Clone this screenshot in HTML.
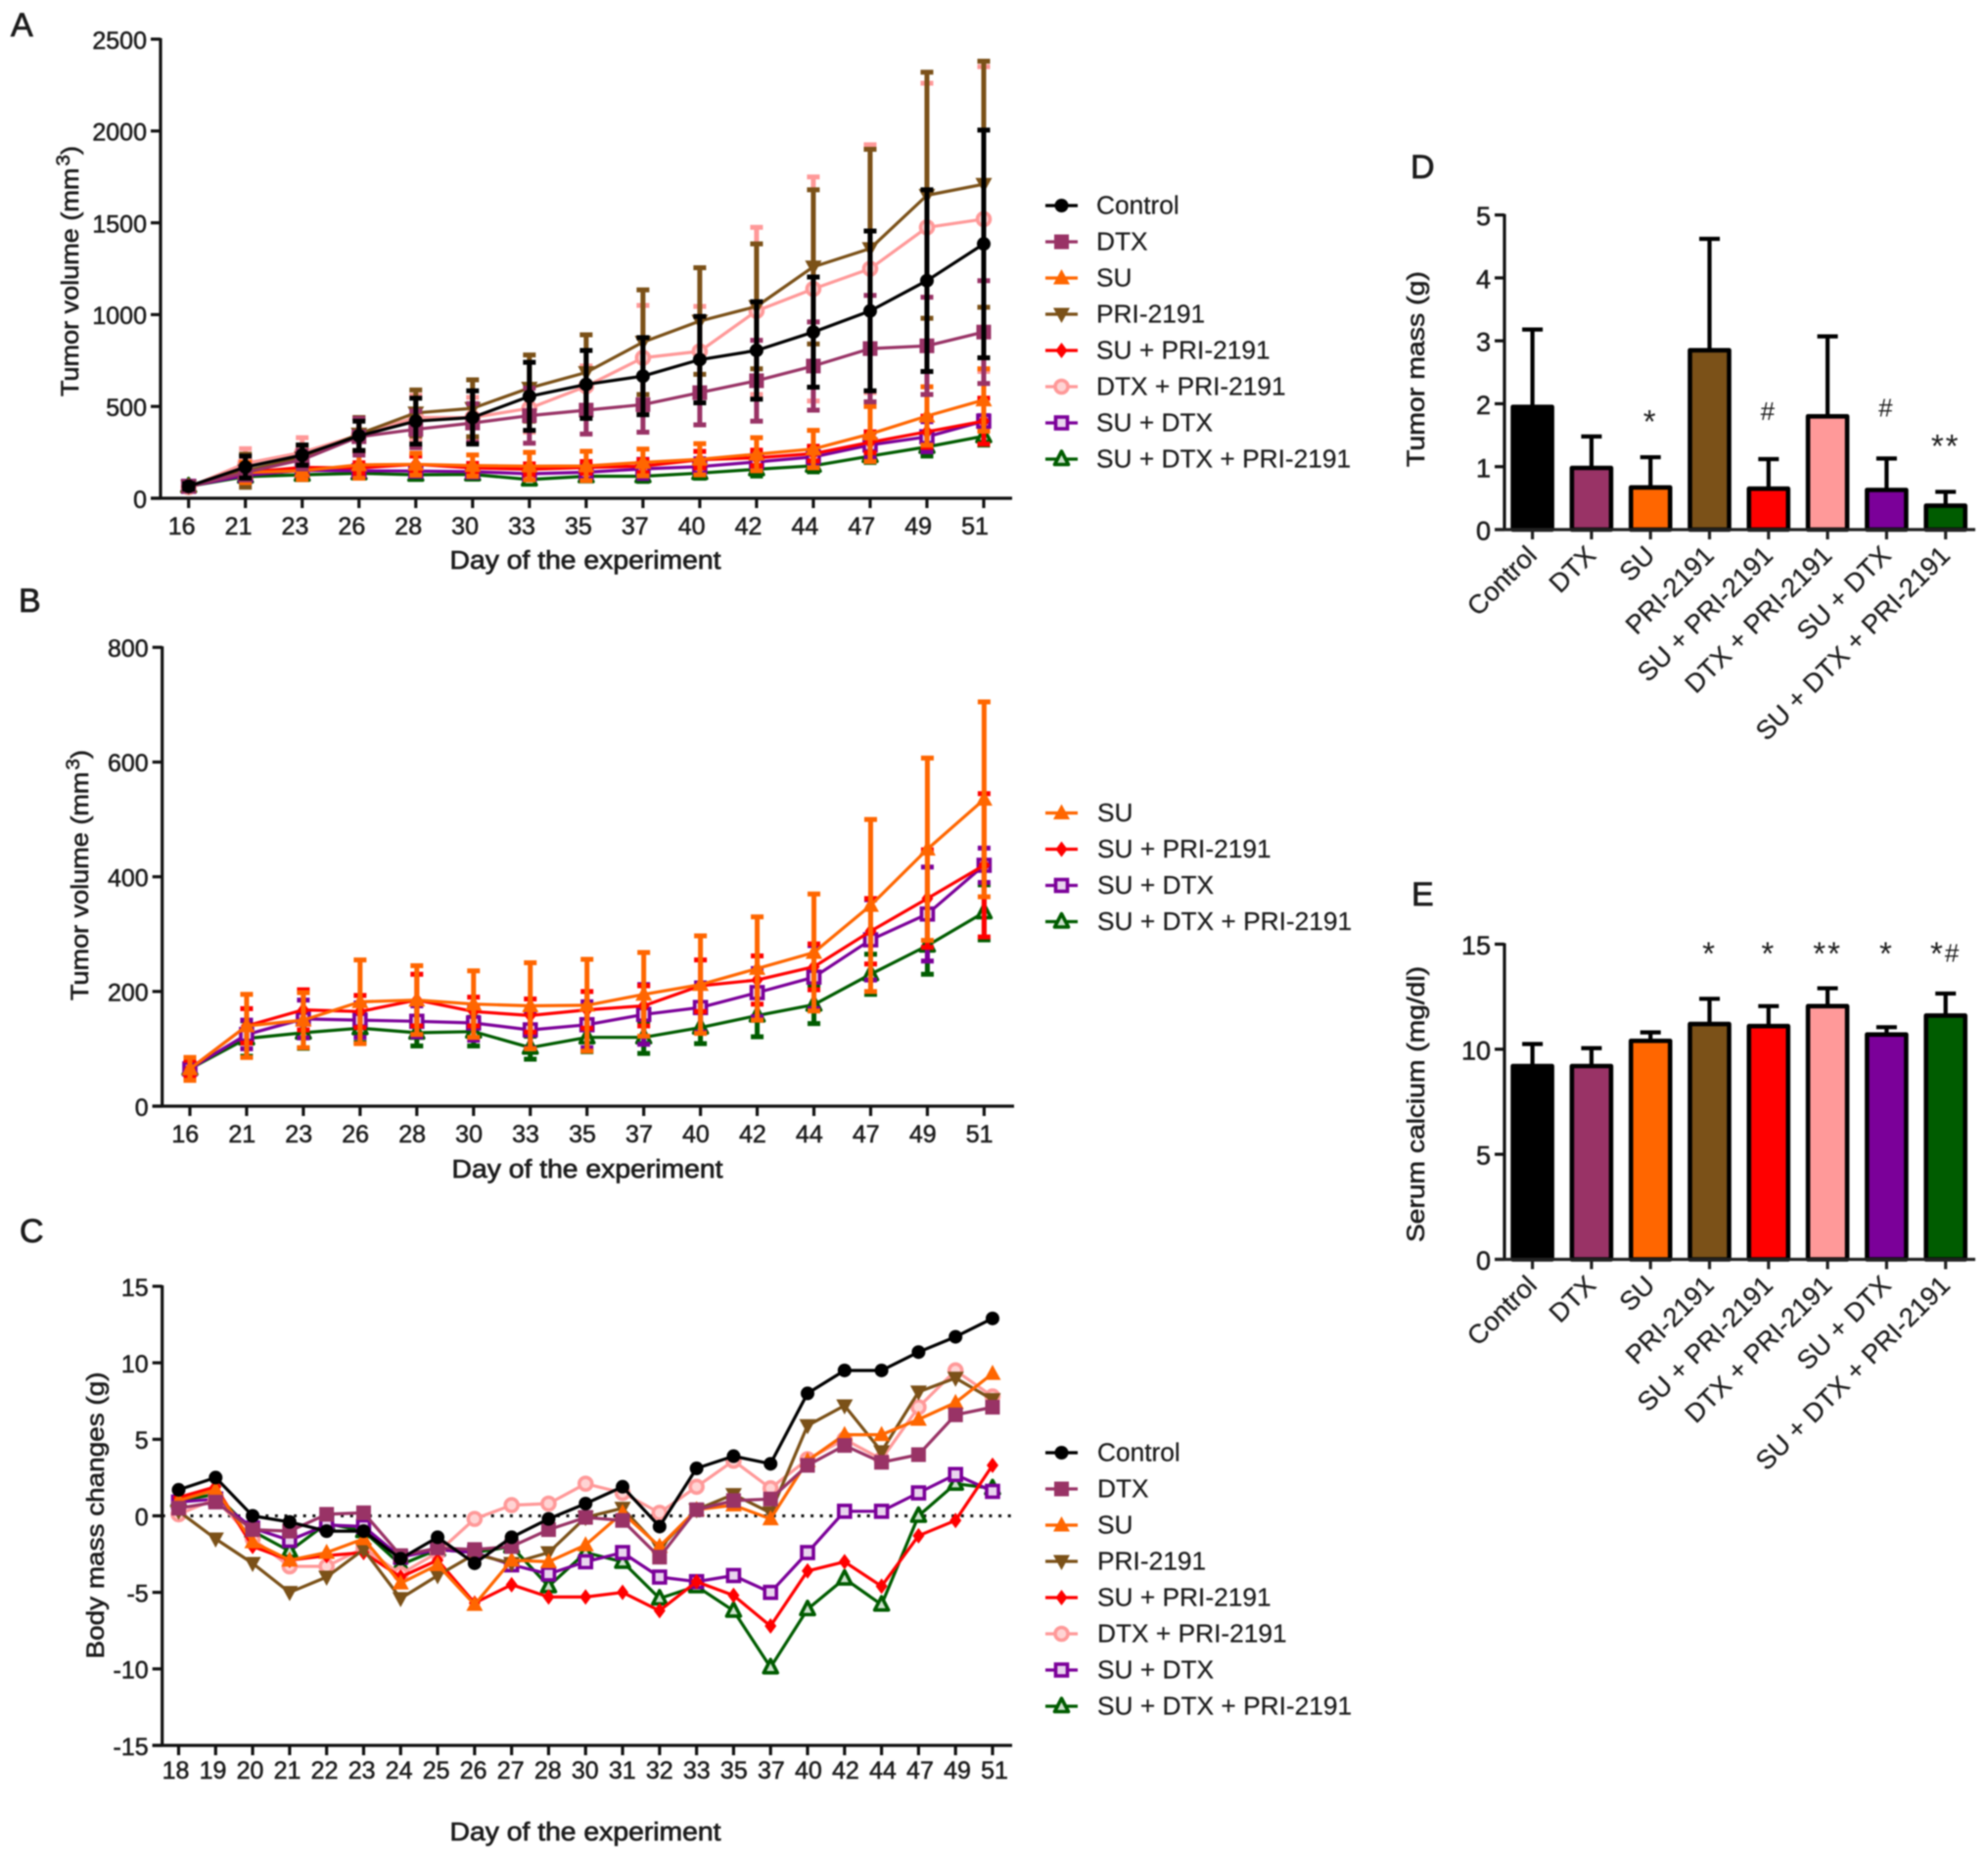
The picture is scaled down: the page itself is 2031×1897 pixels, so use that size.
<!DOCTYPE html>
<html lang="en">
<head>
<meta charset="utf-8">
<title>Tumor volume, body mass, tumor mass and serum calcium</title>
<style>
html,body{margin:0;padding:0;background:#fff;width:2031px;height:1897px;overflow:hidden}
svg{display:block;filter:blur(.7px)}
text{font-family:"Liberation Sans",Arial,sans-serif;fill:#1c1c1c}
</style>
</head>
<body>
<svg id="figure" xmlns="http://www.w3.org/2000/svg" width="2031" height="1897" viewBox="0 0 2031 1897"></svg>
<script>
// ---------- Shared categories ----------
const groupNames = ['Control','DTX','SU','PRI-2191','SU + PRI-2191','DTX + PRI-2191','SU + DTX','SU + DTX + PRI-2191'];
const groupColors = ['#000000','#993366','#ff6600','#7b5118','#ff0000','#ff9999','#7b0099','#005c00'];
const groupShapes = ['circle','square','up','down','diamond','ocircle','osquare','oup'];

// ---------- Tumor volume (panels A and B) ----------
const volumeDays = [16,21,23,26,28,30,33,35,37,40,42,44,47,49,51];
const volControl = [65,170,235,340,420,440,555,620,665,755,805,905,1020,1185,1385];
const volDtx = [65,140,210,335,375,410,450,480,510,575,640,720,815,830,905];
const volSu = [65,140,150,182,185,178,175,176,195,212,240,268,350,448,535];
const volPri = [65,150,220,350,465,490,600,685,850,965,1045,1260,1360,1650,1710];
const volSuPri = [65,140,168,165,185,165,158,168,175,210,220,243,305,362,420];
const volDtxPri = [60,190,250,345,440,440,490,610,765,800,1020,1140,1250,1475,1520];
const volSuDtx = [65,125,152,150,148,145,133,142,160,172,198,225,290,335,420];
const volSuDtxPri = [65,118,128,136,128,130,102,120,120,137,158,177,230,280,338];
const errControl = [15,60,55,80,125,145,185,185,210,235,265,300,435,495,620];
const errDtx = [15,40,50,100,100,105,150,130,150,175,220,240,290,265,280];
const errSu = [20,55,48,73,60,58,75,80,73,85,90,102,150,159,170];
const errPri = [15,90,70,90,125,155,180,205,285,290,340,420,540,670,670];
const errSuPri = [15,30,35,28,45,25,29,32,35,45,42,40,57,85,125];
const errDtxPri = [15,80,80,95,120,110,130,110,285,245,455,610,675,785,830];
const errSuDtx = [15,25,33,30,27,30,32,40,52,43,42,55,70,82,30];
const errSuDtxPri = [15,31,27,25,23,25,20,25,28,28,37,33,35,50,48];
const ticksA = [0,500,1000,1500,2000,2500];
const ticksB = [0,200,400,600,800];

// ---------- Body mass (panel C) ----------
const massDays = [18,19,20,21,22,23,24,25,26,27,28,30,31,32,33,35,37,40,42,44,47,49,51];
const massControl = [1.7,2.5,0,-0.4,-1,-1,-2.8,-1.4,-3.1,-1.4,-0.2,0.8,1.9,-0.7,3.1,3.9,3.4,8,9.5,9.5,10.7,11.7,12.9];
const massDtx = [0.5,0.9,-0.9,-1.0,0.1,0.2,-2.6,-2.1,-2.2,-2.0,-0.9,-0.1,-0.3,-2.7,0.4,1.0,1.1,3.3,4.6,3.5,4.0,6.6,7.1];
const massSu = [1.0,1.7,-1.7,-2.9,-2.4,-1.5,-4.4,-3.2,-5.8,-2.9,-3.0,-1.9,0.2,-2.0,0.4,0.7,-0.2,3.6,5.3,5.3,6.3,7.4,9.3];
const massPri = [0.3,-1.5,-3.1,-5.0,-4.0,-2.2,-5.4,-3.9,-2.5,-3.1,-2.4,-0.1,0.5,-2.1,0.4,1.4,0.2,5.9,7.2,4.2,8.1,9.0,7.6];
const massSuPri = [1.2,1.9,-2.0,-2.9,-2.6,-2.4,-4.0,-2.9,-5.7,-4.5,-5.3,-5.3,-5.0,-6.2,-4.3,-5.2,-7.2,-3.6,-3.0,-4.6,-1.3,-0.3,3.3];
const massDtxPri = [0.1,1.1,-1.5,-3.3,-3.3,-2.1,-3.8,-2.4,-0.2,0.7,0.8,2.1,1.5,0.2,1.9,3.6,1.8,3.7,5.0,3.7,7.1,9.5,7.8];
const massSuDtx = [0.9,1.1,-0.8,-1.6,-0.6,-0.7,-2.7,-2.2,-2.4,-3.2,-3.8,-3.0,-2.4,-4.0,-4.3,-3.9,-5.0,-2.4,0.3,0.3,1.5,2.7,1.6];
const massSuDtxPri = [1.0,1.4,-1.0,-2.3,-0.5,-1.0,-3.2,-2.2,-2.4,-2.0,-4.6,-2.4,-3.0,-5.4,-4.6,-6.2,-9.9,-6.1,-4.1,-5.8,0,2.1,1.8];
const ticksC = [-15,-10,-5,0,5,10,15];

// ---------- Bar panels D and E ----------
const tumorMass = [1.95,0.98,0.67,2.85,0.65,1.80,0.63,0.38];
const tumorMassUpper = [3.18,1.48,1.15,4.62,1.12,3.07,1.13,0.60];
const tumorMassMarks = ['','','*','','#','','#','**'];
const tumorMassMarkLevels = [0,0,1.54,0,1.74,0,1.80,1.15];
const ticksD = [0,1,2,3,4,5];
const calcium = [9.2,9.2,10.4,11.2,11.1,12.05,10.7,11.6];
const calciumUpper = [10.25,10.05,10.8,12.4,12.05,12.9,11.05,12.65];
const calciumMarks = ['','','','*','*','**','*','*#'];
const calciumMarkLevels = [0,0,0,14.03,14.03,14.03,14.03,14.03];
const ticksE = [0,5,10,15];

const NS = 'http://www.w3.org/2000/svg';
const root = document.getElementById('figure');
function mk(tag, attrs, parent, txt){
  const el = document.createElementNS(NS, tag);
  for(const k in attrs){ el.setAttribute(k, attrs[k]); }
  if(txt !== undefined){ el.textContent = txt; }
  (parent || root).appendChild(el);
  return el;
}
function slug(s){ return s.toLowerCase().replace(/[^a-z0-9]+/g,'-').replace(/^-|-$/g,''); }

function panelLetter(letter, x, y){
  const el = mk('text',{x:x,y:y,'font-size':34,stroke:'#1c1c1c','stroke-width':.8},root,letter);
  
  
}

function marker(parent, shape, x, y, color){
  const thick = 3.6;
  let el;
  if(shape === 'circle'){ el = mk('circle',{cx:x,cy:y,r:7,fill:color},parent); }
  else if(shape === 'square'){ el = mk('rect',{x:x-7.5,y:y-7.5,width:15,height:15,fill:color},parent); }
  else if(shape === 'up'){ el = mk('polygon',{points:[x,y-9,x+8.5,y+6.5,x-8.5,y+6.5].join(' '),fill:color},parent); }
  else if(shape === 'down'){ el = mk('polygon',{points:[x,y+9,x+8.5,y-6.5,x-8.5,y-6.5].join(' '),fill:color},parent); }
  else if(shape === 'diamond'){ el = mk('polygon',{points:[x,y-8,x+6,y,x,y+8,x-6,y].join(' '),fill:color},parent); }
  else if(shape === 'ocircle'){ el = mk('circle',{cx:x,cy:y,r:6.5,fill:'#ffd4d4',stroke:color,'stroke-width':thick},parent); }
  else if(shape === 'osquare'){ el = mk('rect',{x:x-6,y:y-6,width:12,height:12,fill:'#e9d5ee',stroke:color,'stroke-width':thick},parent); }
  else { el = mk('polygon',{points:[x,y-8,x+7,y+5.5,x-7,y+5.5].join(' '),fill:'#cfe3cf',stroke:color,'stroke-width':thick,'stroke-linejoin':'round'},parent); }
  
  
}

function yAxisPart(g, axisX, yScale, ticks, fontSize, labelGap, axisW){
  const line = mk('line',{x1:axisX,x2:axisX,y1:yScale(ticks[ticks.length-1])-1,y2:yScale(ticks[0])+1,stroke:'#111','stroke-width':axisW},g);
  
  
  ticks.forEach(function(t){
    const tick = mk('line',{x1:axisX-10,x2:axisX,y1:yScale(t),y2:yScale(t),stroke:'#111','stroke-width':axisW},g);
    
    
    const lab = mk('text',{x:axisX-labelGap,y:yScale(t)+fontSize*.39,'text-anchor':'end','font-size':fontSize,stroke:'#1c1c1c','stroke-width':.55},g,String(t));
    
    
  });
}

function rotatedTitle(g, x, y, pre, sup, post, len, name){
  const t = mk('text',{transform:'translate('+x+','+y+') rotate(-90)','text-anchor':'middle','font-size':25,stroke:'#1c1c1c','stroke-width':.6},g);
  
  
  mk('tspan',{},t,pre);
  if(sup){
    mk('tspan',{'font-size':19,dy:-9,dx:2},t,sup);
    mk('tspan',{dy:9},t,post);
  }
  if(len){ t.setAttribute('textLength', len); t.setAttribute('lengthAdjust','spacingAndGlyphs'); }
}

function lineChart(o){
  const g = mk('g',{},root);
  
  
  const n = o.cats.length;
  const x = function(i){ return o.x0 + (o.x1 - o.x0) * i / (n - 1); };
  const y = function(v){ return o.yBase + (o.yTop - o.yBase) * (v - o.ticks[0]) / (o.ticks[o.ticks.length-1] - o.ticks[0]); };
  if(o.zeroLine){
    const z = mk('line',{x1:o.axisX,x2:o.axisEnd,y1:y(0),y2:y(0),stroke:'#111','stroke-width':3,'stroke-dasharray':'3 6.6'},g);
    
    
  }
  // series draw in reverse legend order so the first group sits on top
  for(let s = o.series.length - 1; s >= 0; s--){
    const S = o.series[s];
    const sg = mk('g',{},g);
    
    
    if(S.err){
      S.values.forEach(function(v,i){
        const top = y(v + S.err[i]);
        const bot = y(Math.max(v - S.err[i], 0));
        const e = mk('path',{d:'M'+x(i)+' '+top+'V'+bot+'M'+(x(i)-6.5)+' '+top+'h13M'+(x(i)-6.5)+' '+bot+'h13',stroke:S.color,'stroke-width':5,fill:'none'},sg);
        
        
      });
    }
    const pts = S.values.map(function(v,i){ return x(i).toFixed(1) + ',' + y(v).toFixed(1); }).join(' ');
    const l = mk('polyline',{points:pts,fill:'none',stroke:S.color,'stroke-width':3.2,'stroke-linejoin':'round'},sg);
    
    
    S.values.forEach(function(v,i){ marker(sg,S.shape,x(i),y(v),S.color); });
  }
  yAxisPart(g,o.axisX,y,o.ticks,o.tickFont,14,3.2);
  const xa = mk('line',{x1:o.axisX-10,x2:o.axisEnd,y1:o.yBase,y2:o.yBase,stroke:'#111','stroke-width':3.2},g);
  
  
  o.cats.forEach(function(c,i){
    const tk = mk('line',{x1:x(i),x2:x(i),y1:o.yBase,y2:o.yBase+10,stroke:'#111','stroke-width':3.2},g);
    
    
    const off = o.lab0 + (o.lab1 - o.lab0) * i / (n - 1);
    const lb = mk('text',{x:x(i)+off,y:o.labY,'text-anchor':'middle','font-size':o.tickFont,stroke:'#1c1c1c','stroke-width':.55},g,String(c));
    
    
  });
  const xt = mk('text',{x:o.titleX,y:o.titleY,'text-anchor':'middle','font-size':25.5,stroke:'#1c1c1c','stroke-width':.7,textLength:277,lengthAdjust:'spacingAndGlyphs'},g,'Day of the experiment');
  
  
  rotatedTitle(g,o.yTitleX,o.yTitleY,o.yPre,o.ySup,o.yPost,o.yLen,'y-axis-title');
  // legend
  const lg = mk('g',{},g);
  
  
  o.series.forEach(function(S,i){
    const ly = o.legendY + i * 37;
    const row = mk('g',{},lg);
    
    
    mk('line',{x1:1068,x2:1101,y1:ly,y2:ly,stroke:S.color,'stroke-width':3.2},row);
    marker(row,S.shape,1084.5,ly,S.color);
    const t = mk('text',{x:o.legendTextX,y:ly+8.5,'font-size':26.3,fill:'#222'},row,S.name);
    t.setAttribute('stroke', '#222');
    t.setAttribute('stroke-width', '.25');
    
    
  });
}

function barChart(o){
  const g = mk('g',{},root);
  
  
  const barX = function(i){ return 1565.6 + 60.3 * i; };
  const y = function(v){ return o.yBase + (o.yTop - o.yBase) * v / o.ticks[o.ticks.length-1]; };
  o.values.forEach(function(v,i){
    const cx = barX(i);
    const e = mk('path',{d:'M'+cx+' '+y(v)+'V'+y(o.upper[i])+'M'+(cx-10.5)+' '+y(o.upper[i])+'h21',stroke:'#000','stroke-width':4.2,fill:'none'},g);
    
    
    const r = mk('rect',{x:cx-20,y:y(v),width:40,height:o.yBase-y(v),fill:groupColors[i],stroke:'#000','stroke-width':4.6,'stroke-linejoin':'round'},g);
    
    
    const tk = mk('line',{x1:cx,x2:cx,y1:o.yBase,y2:o.yBase+10,stroke:'#222','stroke-width':3.2},g);
    
    
    const lb = mk('text',{transform:'translate('+(cx+6)+','+(o.yBase+28)+') rotate(-45)','text-anchor':'end','font-size':27,fill:'#2a2a2a'},g,groupNames[i]);
    lb.setAttribute('stroke', '#2a2a2a');
    lb.setAttribute('stroke-width', '.3');
    
    
    if(o.marks[i]){
      const label = o.marks[i];
      const stars = label.replace(/#/g,'');
      const hash = label.replace(/\*/g,'');
      const m = mk('text',{x:cx,y:y(o.markLevels[i]),'text-anchor':'middle','font-size':33,'letter-spacing':2,fill:'#333'},g);
      
      
      if(stars){ mk('tspan',{},m,stars); }
      if(hash){ mk('tspan',{'font-size':26,dy:stars ? -3 : 0},m,hash); }
    }
  });
  yAxisPart(g,1537,y,o.ticks,27,14,3.2);
  const xa = mk('line',{x1:1527,x2:2018,y1:o.yBase,y2:o.yBase,stroke:'#222','stroke-width':3.2},g);
  
  
  rotatedTitle(g,o.yTitleX,o.yTitleY,o.title,'','',o.yLen,'y-axis-title');
}

function series(idx, values, err){
  return {name:groupNames[idx],color:groupColors[idx],shape:groupShapes[idx],values:values,err:err};
}

panelLetter('A',11,37);
panelLetter('B',19,625);
panelLetter('C',20,1269);
panelLetter('D',1441,182);
panelLetter('E',1442,925);

lineChart({name:'panel-a-tumor-volume',cats:volumeDays,x0:192.7,x1:1005,yBase:509,yTop:40,ticks:ticksA,axisX:164,axisEnd:1034,
  tickFont:25,lab0:-7,lab1:-9,labY:546,titleX:598,titleY:581,yTitleX:80,yTitleY:277,yPre:'Tumor volume (mm',ySup:'3',yPost:')',yLen:256,legendY:210,legendTextX:1120,
  series:[series(0,volControl,errControl),series(1,volDtx,errDtx),series(2,volSu,errSu),series(3,volPri,errPri),series(4,volSuPri,errSuPri),series(5,volDtxPri,errDtxPri),series(6,volSuDtx,errSuDtx),series(7,volSuDtxPri,errSuDtxPri)]});

lineChart({name:'panel-b-tumor-volume-su-groups',cats:volumeDays,x0:194,x1:1005.4,yBase:1130,yTop:661.3,ticks:ticksB,axisX:165.7,axisEnd:1036,
  tickFont:25,lab0:-4.7,lab1:-4.7,labY:1167,titleX:600,titleY:1203,yTitleX:90,yTitleY:894,yPre:'Tumor volume (mm',ySup:'3',yPost:')',yLen:256,legendY:830.5,legendTextX:1121,
  series:[series(2,volSu,errSu),series(4,volSuPri,errSuPri),series(6,volSuDtx,errSuDtx),series(7,volSuDtxPri,errSuDtxPri)]});

lineChart({name:'panel-c-body-mass-changes',cats:massDays,x0:182.5,x1:1014,yBase:1783,yTop:1314,ticks:ticksC,axisX:165.7,axisEnd:1034,zeroLine:true,
  tickFont:25,lab0:-3,lab1:2,labY:1817,titleX:598,titleY:1880,yTitleX:106,yTitleY:1548,yPre:'Body mass changes (g)',ySup:'',yPost:'',yLen:293,legendY:1484,legendTextX:1121,
  series:[series(0,massControl),series(1,massDtx),series(2,massSu),series(3,massPri),series(4,massSuPri),series(5,massDtxPri),series(6,massSuDtx),series(7,massSuDtxPri)]});

barChart({name:'panel-d-tumor-mass',values:tumorMass,upper:tumorMassUpper,marks:tumorMassMarks,markLevels:tumorMassMarkLevels,ticks:ticksD,yBase:541,yTop:219.6,
  yTitleX:1455,yTitleY:377,title:'Tumor mass (g)',yLen:200});

barChart({name:'panel-e-serum-calcium',values:calcium,upper:calciumUpper,marks:calciumMarks,markLevels:calciumMarkLevels,ticks:ticksE,yBase:1286.5,yTop:964.5,
  yTitleX:1455,yTitleY:1128,title:'Serum calcium (mg/dl)',yLen:282});
</script>
</body>
</html>
